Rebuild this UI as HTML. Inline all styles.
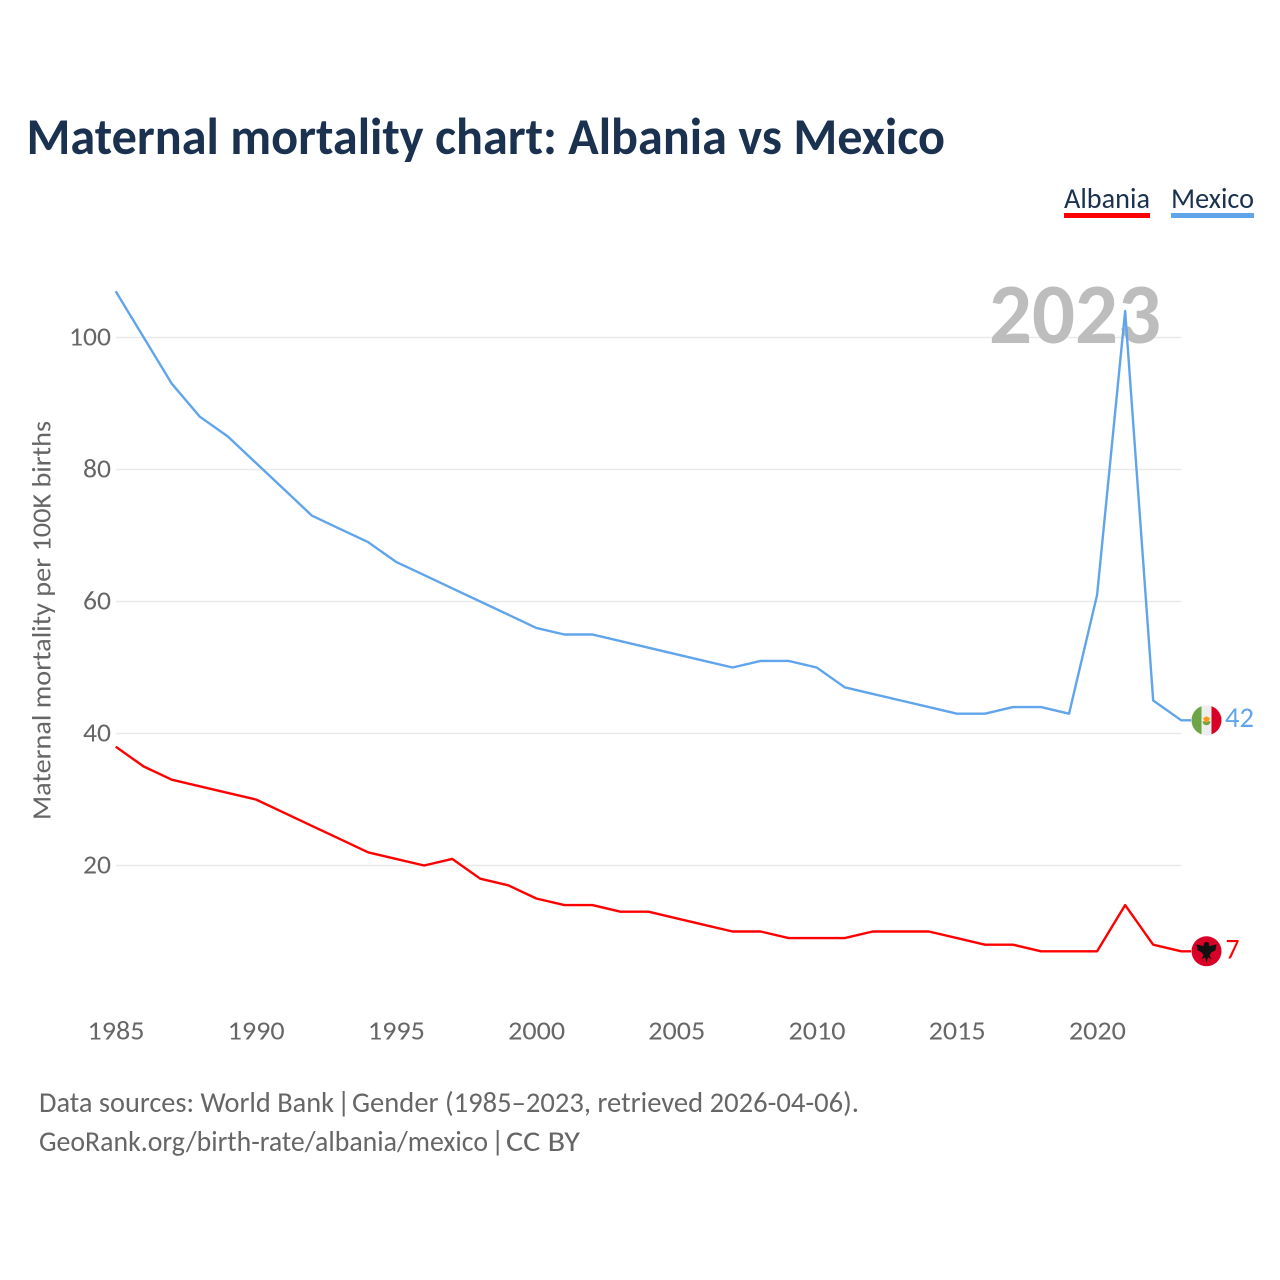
<!DOCTYPE html>
<html lang="en">
<head>
<meta charset="utf-8">
<title>Maternal mortality chart: Albania vs Mexico</title>
<style>
html,body{margin:0;padding:0;background:#fff;width:1280px;height:1280px;overflow:hidden}
svg{display:block}
text{font-family:"Carlito","Lato","Liberation Sans",sans-serif}
</style>
</head>
<body>
<svg id="chart" xmlns="http://www.w3.org/2000/svg" width="1280" height="1280" viewBox="0 0 1280 1280">
<defs>
<clipPath id="flag-clip-mx"><circle cx="0" cy="0" r="15"/></clipPath>
</defs>
<rect x="0" y="0" width="1280" height="1280" fill="#fff"/>
<text x="26.5" y="154" font-size="52" font-weight="700" fill="#1a3150" textLength="918.5" lengthAdjust="spacingAndGlyphs">Maternal mortality chart: Albania vs Mexico</text>
<g>
<text x="1064" y="208" font-size="29" fill="#1a3150" textLength="86" lengthAdjust="spacingAndGlyphs">Albania</text>
<rect x="1064" y="213" width="86" height="5" fill="#ff0000"/>
<text x="1171" y="208" font-size="29" fill="#1a3150" textLength="83" lengthAdjust="spacingAndGlyphs">Mexico</text>
<rect x="1171" y="213" width="83" height="5" fill="#60a5ec"/>
</g>
<g id="grid"></g>
<text x="989" y="343" font-size="86" font-weight="700" fill="#bdbdbd" textLength="172" lengthAdjust="spacingAndGlyphs">2023</text>
<g id="yticks"></g>
<g id="xticks"></g>
<text transform="translate(50.5 820) rotate(-90)" x="0" y="0" font-size="27" fill="#666" textLength="399" lengthAdjust="spacingAndGlyphs">Maternal mortality per 100K births</text>
<g id="series"></g>
<g id="endmarks"></g>
<g font-size="29" fill="#666">
<text x="39" y="1112" textLength="295" lengthAdjust="spacingAndGlyphs">Data sources: World Bank</text>
<text x="337" y="1112">|</text>
<text x="352" y="1112" textLength="507" lengthAdjust="spacingAndGlyphs">Gender (1985–2023, retrieved 2026-04-06).</text>
</g>
<g font-size="29" fill="#666">
<text x="39" y="1151" textLength="449" lengthAdjust="spacingAndGlyphs">GeoRank.org/birth-rate/albania/mexico</text>
<text x="491" y="1151">|</text>
<text x="506" y="1151" textLength="74" lengthAdjust="spacingAndGlyphs">CC BY</text>
</g>
</svg>
<script>
var startYear = 1985;
var albaniaValues = [38,35,33,32,31,30,28,26,24,22,21,20,21,18,17,15,14,14,13,13,12,11,10,10,9,9,9,10,10,10,9,8,8,7,7,7,14,8,7];
var mexicoValues = [107,100,93,88,85,81,77,73,71,69,66,64,62,60,58,56,55,55,54,53,52,51,50,51,51,50,47,46,45,44,43,43,44,44,43,61,104,45,42];
var yTickLabels = [20,40,60,80,100];
var xTickLabels = [1985,1990,1995,2000,2005,2010,2015,2020];

var NS = 'http://www.w3.org/2000/svg';
function xAt(year){ return 115.7 + (year - 1985) * 28.04; }
function yAt(v){ return 997.5 - 6.6 * v; }
function make(tag, attrs, parent){
  var el = document.createElementNS(NS, tag);
  for (var k in attrs) el.setAttribute(k, attrs[k]);
  parent.appendChild(el);
  return el;
}
var grid = document.getElementById('grid');
var yticks = document.getElementById('yticks');
var xticks = document.getElementById('xticks');
var series = document.getElementById('series');
var endmarks = document.getElementById('endmarks');

yTickLabels.forEach(function(v){
  var line = make('line', {x1:116, x2:1181, y1:yAt(v), y2:yAt(v), stroke:'#e9e9e9', 'stroke-width':1.5}, grid);
  
  
  var t = make('text', {x:111, y:yAt(v) + 8, 'text-anchor':'end', 'font-size':27, fill:'#666', textLength:String(v).length * 14, lengthAdjust:'spacingAndGlyphs'}, yticks);
  
  
  t.textContent = v;
});
xTickLabels.forEach(function(y){
  var t = make('text', {x:xAt(y) + 0.3, y:1039.5, 'text-anchor':'middle', 'font-size':27, fill:'#666', textLength:57, lengthAdjust:'spacingAndGlyphs'}, xticks);
  
  
  t.textContent = y;
});
function pathFor(values){
  return values.map(function(v, i){
    return (i ? 'L' : 'M') + xAt(startYear + i).toFixed(2) + ' ' + yAt(v).toFixed(2);
  }).join(' ');
}
function tailFor(values){
  var i = values.length - 1;
  return pathFor(values) + ' L1191 ' + yAt(values[i]).toFixed(2);
}
var mexicoLine = make('path', {d:tailFor(mexicoValues), fill:'none', stroke:'#60a5ec', 'stroke-width':2.4, 'stroke-linejoin':'round'}, series);


var albaniaLine = make('path', {d:tailFor(albaniaValues), fill:'none', stroke:'#ff0000', 'stroke-width':2.4, 'stroke-linejoin':'round'}, series);



var mexLast = mexicoValues[mexicoValues.length - 1];
var albLast = albaniaValues[albaniaValues.length - 1];

var mx = make('g', {transform:'translate(1206.5 ' + yAt(mexLast).toFixed(2) + ')'}, endmarks);


var mxc = make('g', {'clip-path':'url(#flag-clip-mx)'}, mx);
make('rect', {x:-15, y:-15, width:10, height:30, fill:'#6da544'}, mxc);
make('rect', {x:-5, y:-15, width:10, height:30, fill:'#eeeeee'}, mxc);
make('rect', {x:5, y:-15, width:10, height:30, fill:'#d80027'}, mxc);
make('path', {d:'M-4 1 A4 4 0 0 0 4 1 Z', fill:'#6da544'}, mxc);
make('path', {d:'M-3.5 -2 L0 -4 L3.5 -2 L1.5 2 L-1.5 2 Z', fill:'#ff9811'}, mxc);

var mxLabel = make('text', {x:1225, y:yAt(mexLast) + 6.5, 'font-size':29, fill:'#60a5ec', textLength:29, lengthAdjust:'spacingAndGlyphs'}, endmarks);


mxLabel.textContent = mexLast;

var al = make('g', {transform:'translate(1206.5 ' + yAt(albLast).toFixed(2) + ')'}, endmarks);


make('circle', {cx:0, cy:0, r:15, fill:'#d80027'}, al);
make('path', {d:'M-10 -7 L-3 -5 L-2 -9 L2 -9 L3 -5 L10 -7 L9 -1 L5 1 L3 4 L5 8 L1.5 6 L0 12 L-1.5 6 L-5 8 L-3 4 L-5 1 L-9 -1 Z', fill:'#111'}, al);

var alLabel = make('text', {x:1225.5, y:yAt(albLast) + 7, 'font-size':29, fill:'#ff0000', textLength:14, lengthAdjust:'spacingAndGlyphs'}, endmarks);


alLabel.textContent = albLast;
</script>
</body>
</html>
